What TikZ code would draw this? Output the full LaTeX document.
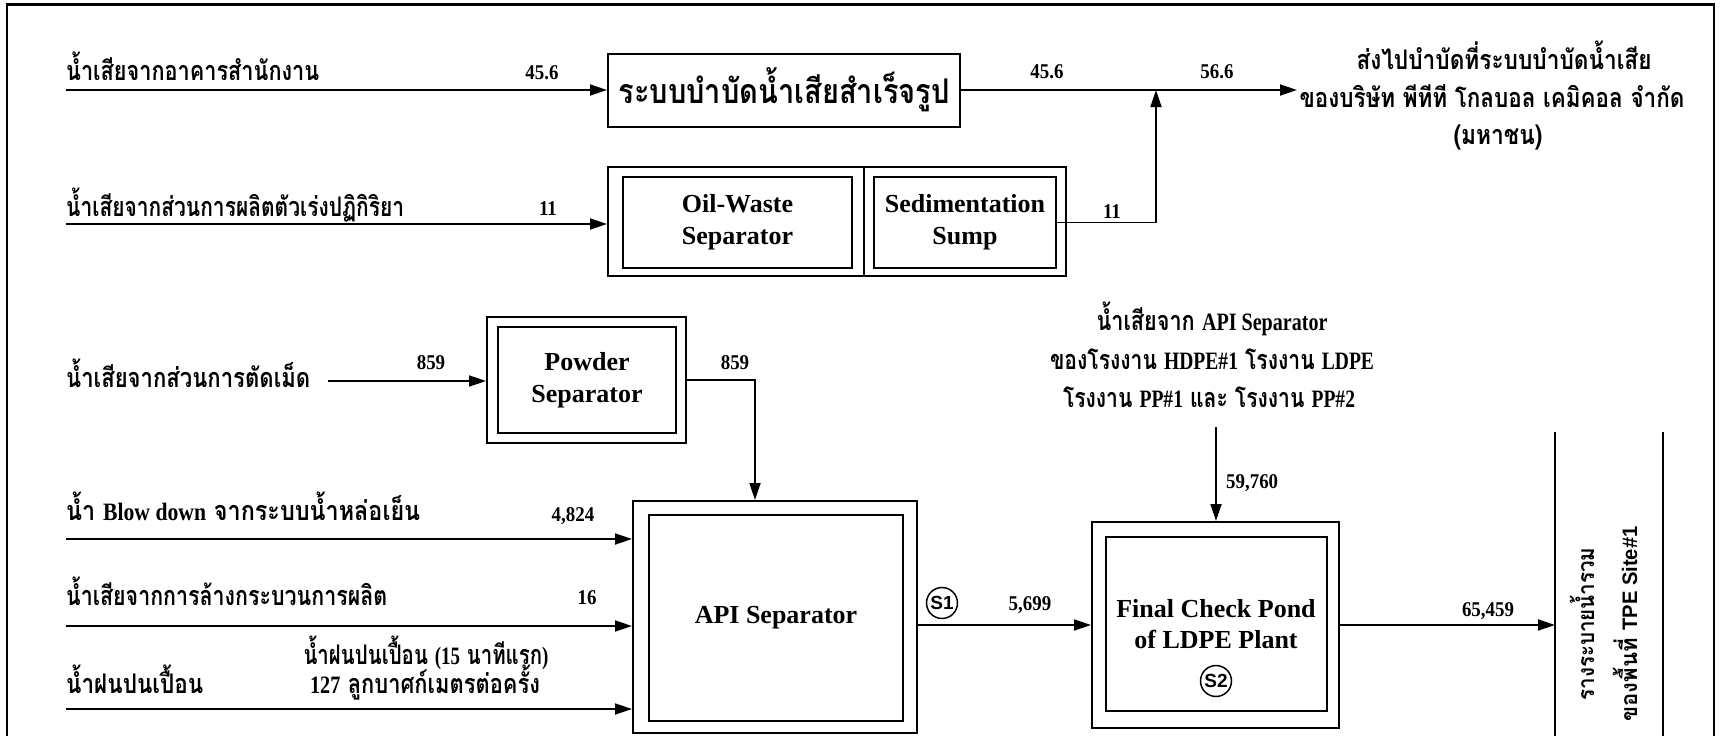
\documentclass[tikz,border=0pt]{standalone}
\usepackage{fontspec}
\setmainfont{Liberation Serif}
\setsansfont{Liberation Sans}
\newfontfamily\thfont[Script=Thai]{Loma}
\usetikzlibrary{arrows.meta}
\newcommand{\fitw}[2]{\resizebox{#1}{\height}{#2}}
\newcommand{\latn}[1]{{\rmfamily\bfseries\fontsize{25pt}{28pt}\selectfont #1}}
\newcommand{\nm}[1]{\scalebox{0.9}[1]{#1}}
\tikzset{
  conn/.style={line width=1.8pt,-{Triangle[length=17pt,width=11pt]}},
  wire/.style={line width=1.5pt},
  boxline/.style={draw,line width=2pt,inner sep=0pt},
  lbl/.style={inner sep=0pt,font=\thfont\bfseries\fontsize{27pt}{30pt}\selectfont},
  vlbl/.style={inner sep=0pt,rotate=90,anchor=base,font=\thfont\bfseries\fontsize{23pt}{26pt}\selectfont},
  num/.style={inner sep=0pt,anchor=base,font=\rmfamily\bfseries\fontsize{21pt}{24pt}\selectfont},
  boxtxt/.style={align=center,font=\rmfamily\bfseries\fontsize{26pt}{32pt}\selectfont},
  tag/.style={draw,circle,line width=1.5pt,minimum size=31pt,inner sep=0pt,font=\sffamily\bfseries\fontsize{19pt}{21pt}\selectfont},
}
\begin{document}
\begin{tikzpicture}[x=1pt,y=-1pt]
\useasboundingbox (0,0) rectangle (1722,736);
\fill[white] (0,0) rectangle (1722,736);
% frame
\coordinate (bot) at (0,736);
\draw[line width=2pt] (7,736) -- (7,4) -- (1714,4) -- (1714,736);
\draw[line width=3pt] (7,4) -- (1714,4);

% ---------- boxes ----------
\node[boxline,minimum width=352pt,minimum height=73pt,
      font=\thfont\bfseries\fontsize{34pt}{38pt}\selectfont] (pkg) at (784,90)
      {\fitw{331pt}{ระบบบำบัดน้ำเสียสำเร็จรูป}};

\node[boxline,minimum width=458pt,minimum height=109pt] (osout) at (837,221.5) {};
\coordinate (dv) at (864,0);
\draw[line width=2pt] (osout.north -| dv) -- (osout.south -| dv);
\node[boxline,boxtxt,minimum width=229pt,minimum height=91pt] (oil) at (737.5,222.5) {Oil-Waste\\Separator};
\node[boxline,boxtxt,minimum width=182pt,minimum height=91pt] (sed) at (965,222.5) {Sedimentation\\Sump};

\node[boxline,minimum width=199pt,minimum height=126pt] (pwo) at (586.5,380) {};
\node[boxline,boxtxt,minimum width=178pt,minimum height=106pt] (pwi) at (587,380) {Powder\\Separator};

\node[boxline,minimum width=284pt,minimum height=232pt] (apio) at (775,617) {};
\node[boxline,boxtxt,minimum width=254pt,minimum height=206pt] (apii) at (776,618) {API Separator};

\node[boxline,minimum width=247pt,minimum height=206pt] (pondo) at (1215.5,625) {};
\node[boxline,minimum width=221pt,minimum height=174pt] (pondi) at (1216.5,624) {};
\node[boxtxt,inner sep=0pt,font=\rmfamily\bfseries\fontsize{26pt}{31pt}\selectfont] (pondt) at (1216,624) {Final Check Pond\\of LDPE Plant};
\node[tag] (s2) at (1216,681) {S2};
\node[tag] (s1) at (942,603) {S1};

% ---------- source labels ----------
\node[lbl,anchor=base west] (src1) at (66,80) {\fitw{253pt}{น้ำเสียจากอาคารสำนักงาน}};
\node[lbl,anchor=base west] (src2) at (66,216) {\fitw{338pt}{น้ำเสียจากส่วนการผลิตตัวเร่งปฏิกิริยา}};
\node[lbl,anchor=base west] (src3) at (66,387) {\fitw{244pt}{น้ำเสียจากส่วนการตัดเม็ด}};
\node[lbl,anchor=base west] (src4) at (66,520) {\fitw{354pt}{น้ำ \latn{Blow down} จากระบบน้ำหล่อเย็น}};
\node[lbl,anchor=base west] (src5) at (66,605) {\fitw{321pt}{น้ำเสียจากการล้างกระบวนการผลิต}};
\node[lbl,anchor=base west] (src6) at (66,693) {\fitw{137pt}{น้ำฝนปนเปื้อน}};
\node[lbl,anchor=base] (rain1) at (426,664) {\fitw{245pt}{น้ำฝนปนเปื้อน \latn{(15} นาทีแรก\latn{)}}};
\node[lbl,anchor=base] (rain2) at (425,693) {\fitw{230pt}{\latn{127} ลูกบาศก์เมตรต่อครั้ง}};

\node[lbl,anchor=base] (dest1) at (1504,69) {\fitw{295pt}{ส่งไปบำบัดที่ระบบบำบัดน้ำเสีย}};
\node[lbl,anchor=base] (dest2) at (1492,107) {\fitw{385pt}{ของบริษัท พีทีที โกลบอล เคมิคอล จำกัด}};
\node[lbl,anchor=base] (dest3) at (1498,144) {\fitw{89pt}{(มหาชน)}};

\node[lbl,anchor=base] (mid1) at (1212,330) {\fitw{231pt}{น้ำเสียจาก \latn{API Separator}}};
\node[lbl,anchor=base] (mid2) at (1212,369) {\fitw{324pt}{ของโรงงาน \latn{HDPE\#1} โรงงาน \latn{LDPE}}};
\node[lbl,anchor=base] (mid3) at (1209,407) {\fitw{292pt}{โรงงาน \latn{PP\#1} และ โรงงาน \latn{PP\#2}}};

\node[vlbl] (drn1) at (1594,624) {\fitw{153pt}{รางระบายน้ำรวม}};
\node[vlbl] (drn2) at (1637,624) {\fitw{195pt}{ของพื้นที่ {\sffamily\bfseries\fontsize{21pt}{24pt}\selectfont TPE Site\#1}}};

% ---------- numbers ----------
\node[num] (n1) at (542,79.5) {\nm{45.6}};
\node[num] (n2) at (548,215.5) {\nm{11}};
\node[num] (n3) at (1047,78.5) {\nm{45.6}};
\node[num] (n4) at (1217,78.5) {\nm{56.6}};
\node[num] (n5) at (1112,218.5) {\nm{11}};
\node[num] (n6) at (431,369.5) {\nm{859}};
\node[num] (n7) at (735,369.5) {\nm{859}};
\node[num] (n8) at (573,521.5) {\nm{4,824}};
\node[num] (n9) at (587,604.5) {\nm{16}};
\node[num] (n10) at (1030,610.5) {\nm{5,699}};
\node[num,anchor=base west] (n11) at (1226,488.5) {\nm{59,760}};
\node[num] (n12) at (1488,616.5) {\nm{65,459}};

% ---------- connectors ----------
\coordinate (a1) at (66,90);
\coordinate (a2) at (66,224);
\coordinate (a3) at (328,381);
\coordinate (a4) at (66,539);
\coordinate (a5) at (66,626);
\coordinate (a6) at (66,709);
\coordinate (jn) at (1156,90);
\coordinate (dst) at (1297,90);
\coordinate (pd) at (755,0);
\coordinate (mt) at (1216,427);
\coordinate (dl1) at (1555,432);
\coordinate (dl2) at (1663,432);

\draw[conn] (a1) -- (a1 -| pkg.west);
\draw[conn] (a2) -- (a2 -| osout.west);
\draw[conn] (a3) -- (a3 -| pwo.west);
\draw[conn] (a4) -- (a4 -| apio.west);
\draw[conn] (a5) -- (a5 -| apio.west);
\draw[conn] (a6) -- (a6 -| apio.west);

\draw[conn] (pkg.east) -- (dst);
\draw[conn] (sed.east) -| (jn);
\draw[conn] (pwo.east) -| (pd |- apio.north);
\draw[conn] (apio.east |- pondo.west) -- (pondo.west);
\draw[conn] (mt) -- (mt |- pondo.north);
\draw[conn] (pondo.east) -- (pondo.east -| dl1);

\draw[wire] (dl1) -- (dl1 |- bot);
\draw[wire] (dl2) -- (dl2 |- bot);
\end{tikzpicture}
\end{document}
